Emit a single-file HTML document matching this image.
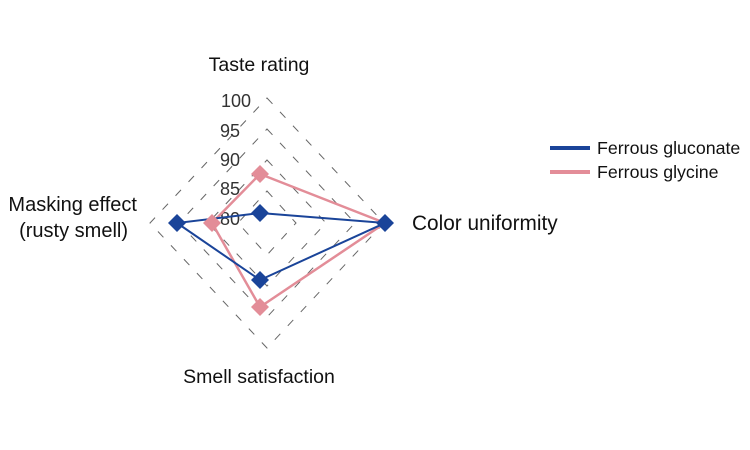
<!DOCTYPE html>
<html><head><style>body{margin:0;background:#fff}svg{display:block}text{font-family:"Liberation Sans",sans-serif}</style></head><body>
<svg width="750" height="450" viewBox="0 0 750 450">
<g fill="none" stroke="#666" stroke-width="1" stroke-dasharray="8,11">
<polygon points="267,98 384,223 267,348 150,223"/>
<polygon points="267,129 355,223 267,317 179,223"/>
<polygon points="267,160 326,223 267,286 208,223"/>
<polygon points="267,191 296,223 267,255 238,223"/>
</g>
<g font-size="18" fill="#333" text-anchor="end">
<text x="251" y="107">100</text><text x="240" y="137">95</text><text x="240" y="166">90</text><text x="240" y="195">85</text><text x="240" y="225">80</text>
</g>
<polygon points="260,174 385,223 260,307 212,223" fill="none" stroke="#e38d98" stroke-width="2.5"/>
<polygon points="260,213 385,223 260,280 177,223" fill="none" stroke="#1a4499" stroke-width="2"/>
<g fill="#e38d98"><path d="M260,165l9,9-9,9-9-9z"/><path d="M260,298l9,9-9,9-9-9z"/><path d="M212,214l9,9-9,9-9-9z"/></g>
<g fill="#1a4499"><path d="M260,204l9,9-9,9-9-9z"/><path d="M385,214l9,9-9,9-9-9z"/><path d="M260,271l9,9-9,9-9-9z"/><path d="M177,214l9,9-9,9-9-9z"/></g>
<g font-size="19.5" fill="#111">
<text x="259" y="71" text-anchor="middle">Taste rating</text>
<text x="412" y="230" font-size="20.8">Color uniformity</text>
<text x="259" y="383" text-anchor="middle">Smell satisfaction</text>
<text x="137" y="211" text-anchor="end" font-size="20">Masking effect</text>
<text x="128" y="237" text-anchor="end" font-size="20">(rusty smell)</text>
</g>
<line x1="550" y1="148" x2="590" y2="148" stroke="#1a4499" stroke-width="4"/>
<line x1="550" y1="172" x2="590" y2="172" stroke="#e38d98" stroke-width="4"/>
<g font-size="17.8" fill="#111"><text x="597" y="154">Ferrous gluconate</text><text x="597" y="178">Ferrous glycine</text></g>
</svg>
</body></html>
